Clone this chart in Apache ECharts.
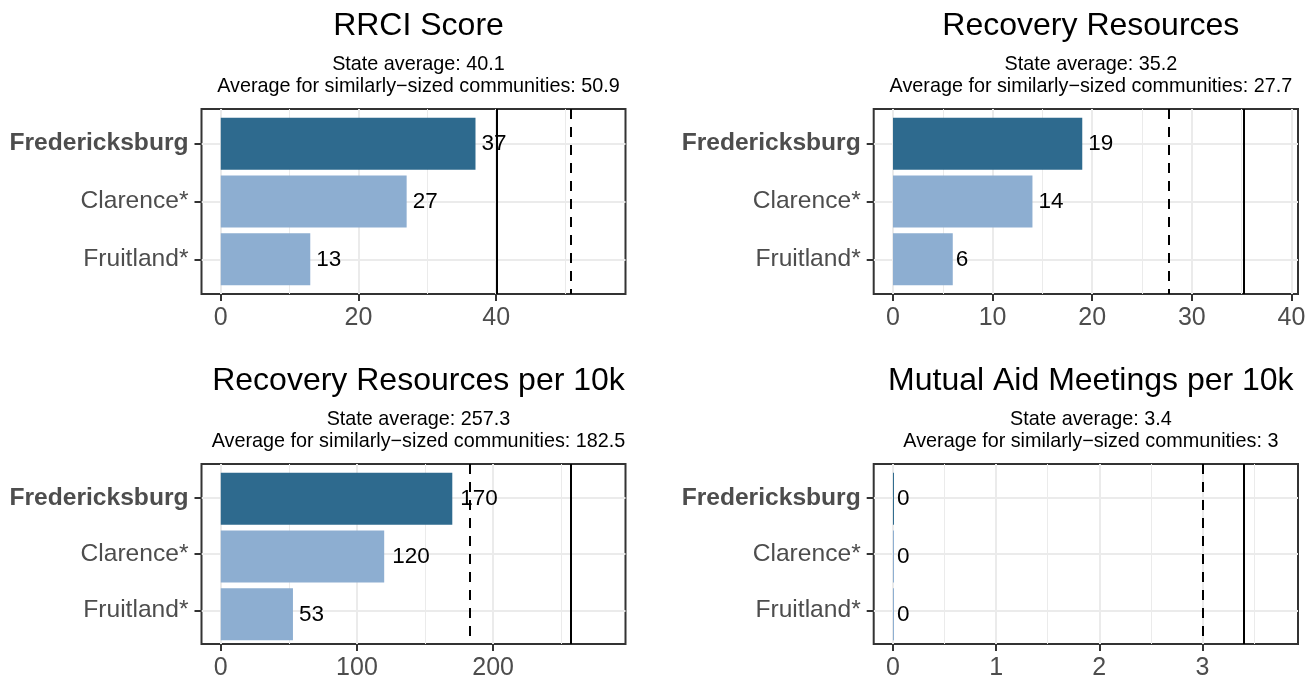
<!DOCTYPE html>
<html>
<head>
<meta charset="utf-8">
<script src="https://cdn.jsdelivr.net/npm/echarts@6/dist/echarts.min.js"></script>
<style>
html,body{margin:0;padding:0;background:#fff;}
#chart{width:1312px;height:681px;}
</style>
</head>
<body>
<div id="chart"></div>
<script>
// ---- data ----
const cities = ['Fredericksburg', 'Clarence*', 'Fruitland*'];
const highlightCity = 'Fredericksburg';
const panelTitles = ['RRCI Score', 'Recovery Resources', 'Recovery Resources per 10k', 'Mutual Aid Meetings per 10k'];
const rrciScore = [37, 27, 13];
const recoveryResources = [19, 14, 6];
const resourcesPer10k = [170, 120, 53];
const mutualAidPer10k = [0, 0, 0];
const stateAverage = [40.1, 35.2, 257.3, 3.4];
const similarAverage = [50.9, 27.7, 182.5, 3];
const majorTicks = [[0, 20, 40], [0, 10, 20, 30, 40], [0, 100, 200], [0, 1, 2, 3]];
const minorTicks = [[10, 30, 50], [5, 15, 25, 35], [50, 150, 250], [0.5, 1.5, 2.5, 3.5]];
const seriesValues = [rrciScore, recoveryResources, resourcesPer10k, mutualAidPer10k];

// ---- layout / style ----
const boxes = [
  { left: 201.5, top: 109, width: 424, height: 185 },
  { left: 873.7, top: 109, width: 424.3, height: 185 },
  { left: 201.5, top: 464, width: 424, height: 185 },
  { left: 873.7, top: 464, width: 424.3, height: 185 }
];
const FONT = "'Liberation Sans', Arial, Helvetica, sans-serif";
const DARK = '#2e6a8e', LIGHT = '#8daed1';
const AXIS_TEXT = '#4d4d4d', GRID = '#ebebeb', BORDER = '#333333';

const grids = [], xAxes = [], yAxes = [], series = [], titles = [];

boxes.forEach((b, i) => {
  const vals = seriesValues[i];
  const top = Math.max(...vals, stateAverage[i], similarAverage[i]) * 1.1;
  const xmin = -0.05 * top, xmax = top * 1.05;
  const band = b.height / 3.2;
  const cx = b.left + b.width / 2;

  // titles
  titles.push({
    text: panelTitles[i], left: cx, top: b.top - 104, textAlign: 'center',
    textStyle: { fontFamily: FONT, fontSize: 32, fontWeight: 'normal', color: '#000' }
  });
  titles.push({
    text: 'State average: ' + stateAverage[i] + '\nAverage for similarly\u2212sized communities: ' + similarAverage[i],
    left: cx, top: b.top - 61, textAlign: 'center',
    textStyle: { fontFamily: FONT, fontSize: 19.8, fontWeight: 'normal', color: '#000', lineHeight: 22.5 }
  });

  // outer grid (panel box)
  const og = grids.length;
  grids.push({ left: b.left, top: b.top, width: b.width, height: b.height, show: true,
    borderColor: BORDER, borderWidth: 2, backgroundColor: '#fff', containLabel: false });
  // inner grid (bars)
  const ig = grids.length;
  grids.push({ left: b.left, top: b.top + 0.1 * band, width: b.width, height: 3 * band, containLabel: false });

  const oxMajor = xAxes.length;
  xAxes.push({
    type: 'value', gridIndex: og, min: xmin, max: xmax, position: 'bottom',
    axisLine: { show: false, onZero: false },
    axisTick: { show: true, customValues: majorTicks[i], length: 7, lineStyle: { color: BORDER, width: 2 } },
    axisLabel: { show: true, customValues: majorTicks[i], margin: 12, color: AXIS_TEXT, fontSize: 25, fontFamily: FONT },
    splitLine: { show: true, lineStyle: { color: GRID, width: 2 } }
  });
  xAxes.push({
    type: 'value', gridIndex: og, min: xmin, max: xmax, position: 'top',
    axisLine: { show: false, onZero: false },
    axisTick: { show: false, customValues: minorTicks[i] },
    axisLabel: { show: false },
    splitLine: { show: true, lineStyle: { color: GRID, width: 1 } }
  });
  const ixIdx = xAxes.length;
  xAxes.push({ type: 'value', gridIndex: ig, min: xmin, max: xmax, show: false,
    axisLine: { onZero: false }, splitLine: { show: false } });

  const oyIdx = yAxes.length;
  yAxes.push({
    type: 'value', gridIndex: og, min: -0.6, max: 2.6, inverse: true, position: 'left',
    axisLine: { show: false, onZero: false },
    axisTick: { show: true, customValues: [0, 1, 2], length: 7, lineStyle: { color: BORDER, width: 2 } },
    axisLabel: {
      show: true, customValues: [0, 1, 2], margin: 13,
      formatter: v => {
        const name = cities[Math.round(v)];
        return name === highlightCity ? '{b|' + name + '}' : '{n|' + name + '}';
      },
      rich: {
        b: { fontFamily: FONT, fontSize: 24.6, fontWeight: 'bold', color: AXIS_TEXT },
        n: { fontFamily: FONT, fontSize: 24.6, fontWeight: 'normal', color: AXIS_TEXT }
      }
    },
    splitLine: { show: true, lineStyle: { color: GRID, width: 2 } }
  });
  const iyIdx = yAxes.length;
  yAxes.push({ type: 'category', gridIndex: ig, data: cities, inverse: true, show: false,
    axisLine: { onZero: false }, splitLine: { show: false } });

  series.push({
    type: 'bar', xAxisIndex: ixIdx, yAxisIndex: iyIdx, barWidth: '90%', barMinHeight: 1,
    data: vals.map((v, k) => ({
      value: v,
      itemStyle: { color: cities[k] === highlightCity ? DARK : LIGHT },
      label: { distance: Math.round(0.2 * String(v).length * 12.4) + 1 }
    })),
    label: { show: true, position: 'right', color: '#000', fontSize: 22.5, fontFamily: FONT,
      formatter: p => String(p.value) },
    z: 2
  });
  series.push({
    type: 'line', xAxisIndex: oxMajor, yAxisIndex: oyIdx, data: [],
    markLine: {
      silent: true, symbol: 'none', label: { show: false }, z: 5,
      data: [
        { xAxis: stateAverage[i], lineStyle: { type: 'solid', color: '#000', width: 2 } },
        { xAxis: similarAverage[i], lineStyle: { type: [10, 8], color: '#000', width: 2 } }
      ]
    }
  });
});

const chart = echarts.init(document.getElementById('chart'), null, { renderer: 'canvas' });
chart.setOption({
  animation: false,
  backgroundColor: '#fff',
  textStyle: { fontFamily: FONT },
  title: titles,
  grid: grids,
  xAxis: xAxes,
  yAxis: yAxes,
  series: series
});
</script>
</body>
</html>
